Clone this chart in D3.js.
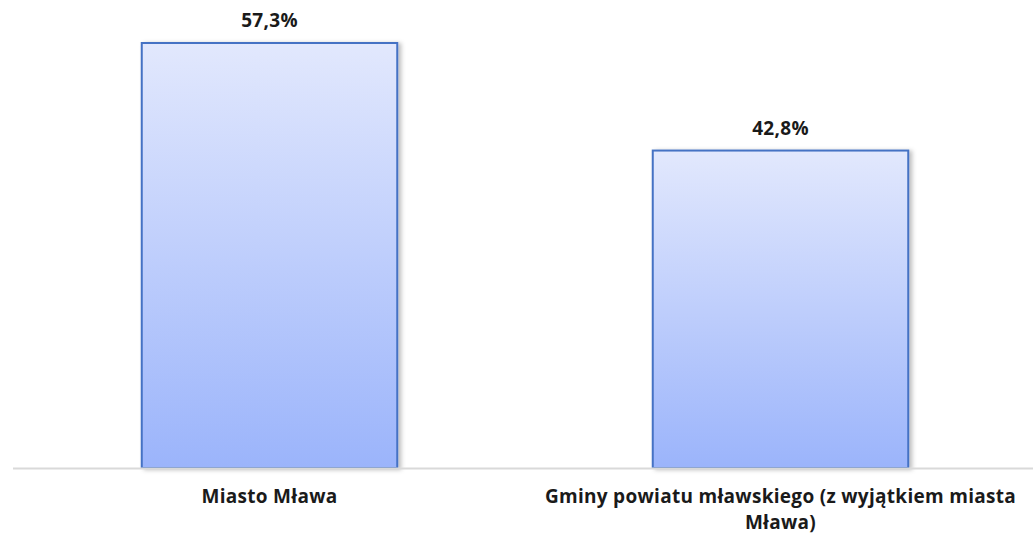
<!DOCTYPE html>
<html>
<head>
<meta charset="utf-8">
<script src="https://cdn.jsdelivr.net/npm/d3@7"></script>
<style>
  body { margin: 0; background: #fff; }
  text { font-family: "Open Sans", "DejaVu Sans", sans-serif; font-weight: bold; fill: #1a1a1a; letter-spacing: 0.3px; }
</style>
</head>
<body>
<svg id="plot"></svg>
<script>
// Data
const categories = ["Miasto Mława", "Gminy powiatu mławskiego (z wyjątkiem miasta Mława)"];
const values = [57.3, 42.8];
const labels = ["57,3%", "42,8%"];

const width = 1033, height = 536;
const baseY = 468;
const fontSize = 19;

const svg = d3.select("#plot")
    .attr("width", width)
    .attr("height", height);

const defs = svg.append("defs");
const grad = defs.append("linearGradient")
    .attr("id", "barGrad")
    .attr("x1", 0).attr("y1", 0).attr("x2", 0).attr("y2", 1);
grad.append("stop").attr("offset", "0%").attr("stop-color", "#e2e8fd");
grad.append("stop").attr("offset", "100%").attr("stop-color", "#9bb4fb");

const shadow = defs.append("filter").attr("id", "shadow")
    .attr("x", "-10%").attr("y", "-10%").attr("width", "130%").attr("height", "130%");
shadow.append("feDropShadow")
    .attr("dx", 3).attr("dy", 1).attr("stdDeviation", 2)
    .attr("flood-color", "#000").attr("flood-opacity", 0.25);

// Scales
const x = d3.scaleBand()
    .domain(categories)
    .range([14, 1036])
    .paddingInner(0.5)
    .paddingOuter(0.25);

const y = d3.scaleLinear()
    .domain([0, 57.3])
    .range([baseY, 43]);

// Bars
svg.selectAll(".bar")
    .data(values)
    .enter().append("rect")
    .attr("class", "bar")
    .attr("x", (d, i) => x(categories[i]))
    .attr("y", d => y(d))
    .attr("width", x.bandwidth())
    .attr("height", d => y(0) - y(d))
    .attr("fill", "url(#barGrad)")
    .attr("stroke", "#4472c4")
    .attr("stroke-width", 2)
    .attr("filter", "url(#shadow)");

// Axis line
svg.append("line")
    .attr("x1", 13).attr("x2", width)
    .attr("y1", baseY + 0.5).attr("y2", baseY + 0.5)
    .attr("stroke", "#d9d9d9")
    .attr("stroke-width", 2);

// Value labels
svg.selectAll(".value")
    .data(values)
    .enter().append("text")
    .attr("class", "value")
    .attr("x", (d, i) => x(categories[i]) + x.bandwidth() / 2)
    .attr("y", d => y(d) - 16)
    .attr("text-anchor", "middle")
    .style("font-size", fontSize + "px")
    .text((d, i) => labels[i]);

// Category labels (wrapped)
function wrapLines(str, maxW, size) {
    const words = str.split(" ");
    const tmp = svg.append("text").style("font-size", size + "px");
    const lines = [];
    let line = [];
    words.forEach(w => {
        line.push(w);
        tmp.text(line.join(" "));
        if (tmp.node().getComputedTextLength() > maxW && line.length > 1) {
            line.pop();
            lines.push(line.join(" "));
            line = [w];
        }
    });
    lines.push(line.join(" "));
    tmp.remove();
    return lines;
}

categories.forEach((c, i) => {
    const cx = x(c) + x.bandwidth() / 2;
    const lines = wrapLines(c, 500, fontSize);
    lines.forEach((l, j) => {
        svg.append("text")
            .attr("x", cx)
            .attr("y", 503 + j * 26)
            .attr("text-anchor", "middle")
            .style("font-size", fontSize + "px")
            .text(l);
    });
});
</script>
</body>
</html>
